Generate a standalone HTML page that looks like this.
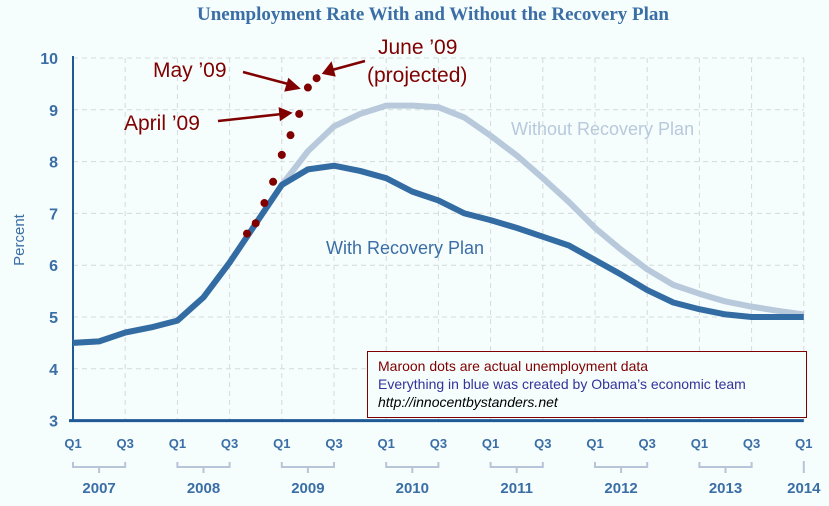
<!DOCTYPE html>
<html><head><meta charset="utf-8"><style>
body{margin:0;background:#f5fdfd;}
svg{display:block;font-family:"Liberation Sans",sans-serif;}
</style></head><body>
<svg id="c" width="829" height="506" viewBox="0 0 829 506">
<rect width="829" height="506" fill="#f5fdfd"/>
<text x="433" y="20" text-anchor="middle" font-family="Liberation Serif,serif" font-weight="bold" font-size="19" fill="#3b6ea5">Unemployment Rate With and Without the Recovery Plan</text>
<g id="grid"></g>
<g id="axes"></g>
<g id="lines"></g>
<g id="dots"></g>
<text transform="translate(24,240) rotate(-90)" text-anchor="middle" font-size="15" fill="#3b6ea5">Percent</text>
<text x="511" y="135" font-size="18" fill="#b8c9dc">Without Recovery Plan</text>
<text x="326" y="254" font-size="18" fill="#3b6ea5">With Recovery Plan</text>
<g fill="#800000" font-size="21">
<text x="378" y="54">June ’09</text>
<text x="367" y="82">(projected)</text>
<text x="153" y="77">May ’09</text>
<text x="124" y="130">April ’09</text>
</g>
<g stroke="#800000" stroke-width="2.5" fill="#800000">
<line x1="243" y1="72" x2="292" y2="85"/><polygon points="298,88 286,90 289,80"/>
<line x1="218" y1="121" x2="282" y2="114"/><polygon points="290,113 281,119 280,109"/>
<line x1="365" y1="61" x2="332" y2="70"/><polygon points="324,73 331,64 334,75"/>
</g>
<rect x="367.5" y="351.5" width="439" height="66" fill="#f5fdfd" stroke="#800000" stroke-width="1"/>
<text x="378" y="371" font-size="14" fill="#800000">Maroon dots are actual unemployment data</text>
<text x="378" y="389" font-size="14" fill="#33339a">Everything in blue was created by Obama’s economic team</text>
<text x="378" y="407" font-size="14" font-style="italic" fill="#000">http://innocentbystanders.net</text>
</svg>
<script>
const withPlan=[4.5,4.53,4.7,4.8,4.93,5.38,6.05,6.8,7.55,7.85,7.92,7.82,7.68,7.42,7.25,7.0,6.87,6.72,6.55,6.38,6.1,5.82,5.52,5.28,5.15,5.05,5.0,5.0,5.0];
const withoutPlan=[4.5,4.53,4.7,4.8,4.93,5.38,6.05,6.8,7.55,8.2,8.68,8.92,9.08,9.08,9.05,8.85,8.5,8.12,7.68,7.22,6.72,6.3,5.92,5.62,5.45,5.3,5.2,5.12,5.05];
const actualMonths=[20,21,22,23,24,25,26,27,28];
const actualValues=[6.61,6.81,7.2,7.61,8.13,8.51,8.92,9.43,9.61];
const yTicks=[3,4,5,6,7,8,9,10];
const years=["2007","2008","2009","2010","2011","2012","2013","2014"];
const NS="http://www.w3.org/2000/svg";
const X0=73,QW=26.1,Y3=420.6,UY=51.8;
const xq=q=>X0+q*QW, xm=m=>X0+m*QW/3, y=v=>Y3-(v-3)*UY;
function mk(tag,attrs,parent,txt){const e=document.createElementNS(NS,tag);for(const k in attrs)e.setAttribute(k,attrs[k]);if(txt!==undefined)e.textContent=txt;document.getElementById(parent).appendChild(e);return e;}
yTicks.forEach(v=>{if(v>3){const g=mk('line',{x1:X0,x2:xq(28),y1:y(v),y2:y(v),stroke:'#d5dada','stroke-dasharray':'5,4'},'grid');

}
const t=mk('text',{x:58,y:y(v)+6,'text-anchor':'end','font-size':16,'font-weight':'bold',fill:'#3b6ea5'},'axes',v);

});
for(let q=2;q<=28;q+=2){const g=mk('line',{x1:xq(q),x2:xq(q),y1:y(10),y2:Y3,stroke:'#d5dada','stroke-dasharray':'5,4'},'grid');

}
mk('line',{x1:X0,x2:X0,y1:y(10)-2,y2:Y3,stroke:'#1f5a96','stroke-width':2},'axes');
mk('line',{x1:X0-4,x2:xq(28),y1:Y3,y2:Y3,stroke:'#1f5a96','stroke-width':3},'axes');
for(let q=0;q<=28;q+=2){const t=mk('text',{x:xq(q),y:448,'text-anchor':'middle','font-size':13,'font-weight':'bold',fill:'#3b6ea5'},'axes',q%4===0?'Q1':'Q3');

}
years.forEach((yr,i)=>{const q=i*4;
if(i<7){mk('path',{d:`M${xq(q)},462V467H${xq(q+2)}V462M${(xq(q)+xq(q+2))/2},467V473`,stroke:'#b8c4d8','stroke-width':2,fill:'none'},'axes');}
else mk('line',{x1:xq(q),x2:xq(q),y1:461,y2:473,stroke:'#b8c4d8','stroke-width':2},'axes');
const cx=i<7?(xq(q)+xq(q+2))/2:xq(q);
const t=mk('text',{x:cx,y:493,'text-anchor':'middle','font-size':15,'font-weight':'bold',fill:'#3b6ea5'},'axes',yr);

});
const l1=mk('polyline',{points:withoutPlan.map((v,i)=>xq(i)+','+y(v)).join(' '),fill:'none',stroke:'#b8c9dc','stroke-width':6,'stroke-linejoin':'round'},'lines');


const l2=mk('polyline',{points:withPlan.map((v,i)=>xq(i)+','+y(v)).join(' '),fill:'none',stroke:'#336ba3','stroke-width':6,'stroke-linejoin':'round'},'lines');


actualValues.forEach((v,i)=>{const d=mk('circle',{cx:xm(actualMonths[i]),cy:y(v),r:4,fill:'#800000'},'dots');

});
</script>
</body></html>
